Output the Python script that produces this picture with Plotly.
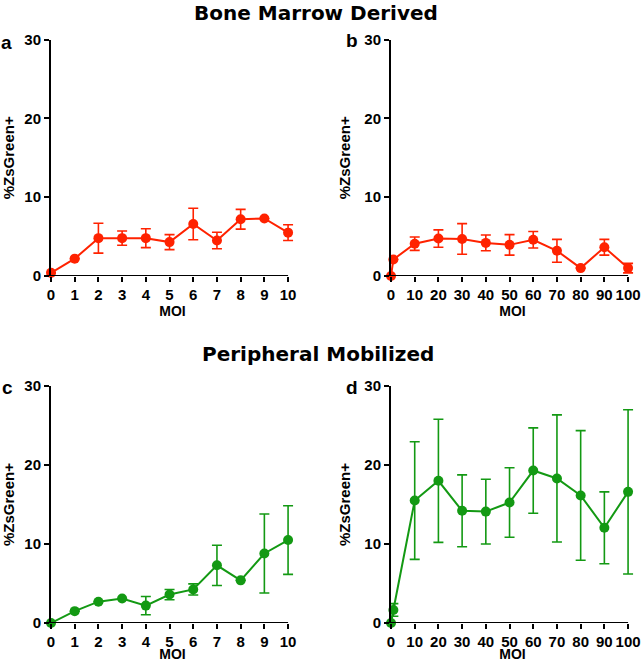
import plotly.graph_objects as go

# ---- data ----
moi_low = [0, 1, 2, 3, 4, 5, 6, 7, 8, 9, 10]
moi_high = [0, 1, 10, 20, 30, 40, 50, 60, 70, 80, 90, 100]
low_ticks = [0, 1, 2, 3, 4, 5, 6, 7, 8, 9, 10]
high_ticks = [0, 10, 20, 30, 40, 50, 60, 70, 80, 90, 100]
y_ticks = [0, 10, 20, 30]

# a: Bone marrow, low MOI
a_mean = [0.4, 2.2, 4.8, 4.8, 4.8, 4.3, 6.6, 4.5, 7.2, 7.3, 5.5]
a_err = [0.0, 0.0, 1.9, 0.9, 1.2, 0.95, 2.0, 1.05, 1.25, 0.0, 1.0]

# b: Bone marrow, high MOI
b_mean = [0.0, 2.1, 4.1, 4.75, 4.7, 4.2, 3.95, 4.6, 3.2, 1.0, 3.65, 1.0]
b_err = [0.0, 0.0, 0.85, 1.1, 1.95, 1.0, 1.3, 1.05, 1.45, 0.0, 1.0, 0.6]

# c: Peripheral mobilized, low MOI
c_mean = [0.0, 1.5, 2.7, 3.1, 2.2, 3.6, 4.25, 7.3, 5.4, 8.8, 10.5]
c_err = [0.0, 0.0, 0.0, 0.0, 1.15, 0.65, 0.7, 2.55, 0.0, 5.0, 4.35]

# d: Peripheral mobilized, high MOI
d_mean = [0.0, 1.65, 15.5, 18.0, 14.2, 14.1, 15.25, 19.3, 18.3, 16.15, 12.05, 16.6]
d_err = [0.0, 0.8, 7.45, 7.8, 4.55, 4.1, 4.4, 5.4, 8.05, 8.2, 4.55, 10.4]

RED = "#ff2200"
GREEN = "#139913"
FONT = "Liberation Sans"

fig = go.Figure()

panels = [
    (moi_low, a_mean, a_err, RED, "x", "y", low_ticks),
    (moi_high, b_mean, b_err, RED, "x2", "y2", high_ticks),
    (moi_low, c_mean, c_err, GREEN, "x3", "y3", low_ticks),
    (moi_high, d_mean, d_err, GREEN, "x4", "y4", high_ticks),
]
for xs, ys, es, col, xa, ya, ticks in panels:
    fig.add_trace(go.Scatter(
        x=xs, y=ys, xaxis=xa, yaxis=ya, mode="lines+markers",
        line=dict(color=col, width=2),
        marker=dict(color=col, size=10),
        error_y=dict(type="data", array=es, visible=True, color=col,
                     thickness=1.6, width=5),
        cliponaxis=False, showlegend=False, hoverinfo="skip",
    ))
    # x-axis baseline drawn in data coordinates from first to last tick
    fig.add_shape(type="line", xref=xa, yref=ya, x0=ticks[0], x1=ticks[-1],
                  y0=0, y1=0, line=dict(color="black", width=2), layer="above")

W, H = 641, 662
PAD_LOW = 0.25   # extra room so the last error-bar cap is not clipped
PAD_HIGH = 2.5

xdom_left = [51 / W, (288 + 6) / W]
xdom_right = [391 / W, (628 + 6) / W]
ydom_top = [1 - 276 / H, 1 - 39.5 / H]
ydom_bot = [1 - 623 / H, 1 - 386 / H]

axis_common = dict(
    ticks="outside", ticklen=5, tickwidth=2, tickcolor="black",
    showgrid=False, zeroline=False, automargin=False,
    tickfont=dict(family=FONT, size=15, color="black", weight="bold"),
)

def xax(dom, anchor, rng, ticks):
    return dict(axis_common, domain=dom, anchor=anchor, range=rng,
                showline=False, tickmode="array", tickvals=ticks,
                title=dict(text="<b>MOI</b>", standoff=1,
                           font=dict(family=FONT, size=14, color="black")))

def yax(dom, anchor):
    return dict(axis_common, domain=dom, anchor=anchor, range=[0, 30],
                showline=True, linecolor="black", linewidth=2,
                tickmode="array", tickvals=y_ticks,
                title=dict(text="<b>%ZsGreen+</b>", standoff=10,
                           font=dict(family=FONT, size=15, color="black")))

fig.update_layout(
    width=W, height=H, margin=dict(l=0, r=0, t=0, b=0, autoexpand=False),
    plot_bgcolor="white", paper_bgcolor="white",
    xaxis=xax(xdom_left, "y", [0, 10 + PAD_LOW], low_ticks),
    yaxis=yax(ydom_top, "x"),
    xaxis2=xax(xdom_right, "y2", [0, 100 + PAD_HIGH], high_ticks),
    yaxis2=yax(ydom_top, "x2"),
    xaxis3=xax(xdom_left, "y3", [0, 10 + PAD_LOW], low_ticks),
    yaxis3=yax(ydom_bot, "x3"),
    xaxis4=xax(xdom_right, "y4", [0, 100 + PAD_HIGH], high_ticks),
    yaxis4=yax(ydom_bot, "x4"),
)

ann = []
for text, xc, yc in [("Bone Marrow Derived", 316, 13), ("Peripheral Mobilized", 318, 354)]:
    ann.append(dict(text=f"<b>{text}</b>", x=xc / W, y=1 - yc / H, xref="paper", yref="paper",
                    xanchor="center", yanchor="middle", showarrow=False,
                    font=dict(family="DejaVu Sans", size=20, color="black")))
for text, xc, yc in [("a", 6, 42), ("b", 352, 41), ("c", 7, 387), ("d", 352, 387)]:
    ann.append(dict(text=f"<b>{text}</b>", x=xc / W, y=1 - yc / H, xref="paper", yref="paper",
                    xanchor="center", yanchor="middle", showarrow=False,
                    font=dict(family=FONT, size=19, color="black")))
fig.update_layout(annotations=ann)

fig.write_html("out.html", config={"displayModeBar": False},
               post_script="document.body.style.margin='0';")
